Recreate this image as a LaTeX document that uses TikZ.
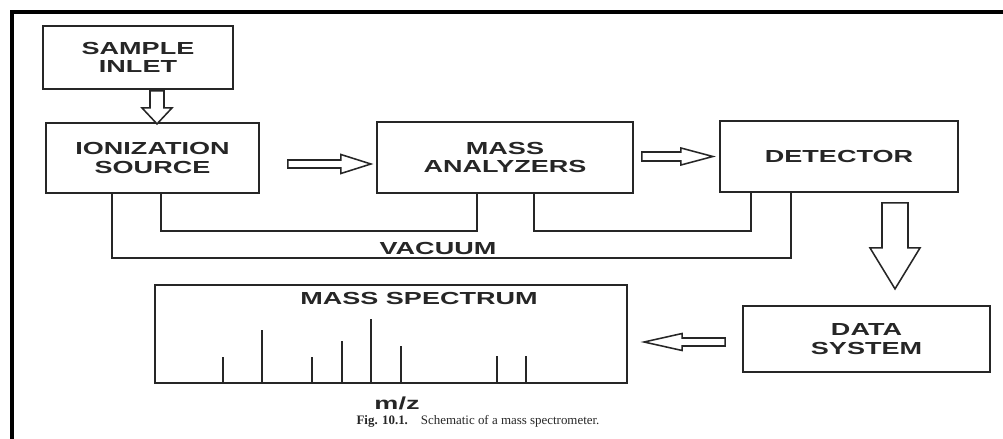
\documentclass[tikz,border=0pt]{standalone}
\usepackage{fontspec}
\setmainfont{Liberation Serif}
\newfontfamily\boxfont[FakeStretch=1.55]{Liberation Sans}
\usetikzlibrary{calc}
\definecolor{inkline}{RGB}{38,38,38}
\newcommand{\pxu}{0.025cm}
\tikzset{
  block/.style={draw=inkline,line width=1.3pt,align=center,text=inkline,
    font=\boxfont\bfseries\fontsize{12.4}{13.2}\selectfont},
  boxtext/.style={text=inkline,inner sep=0pt,
    font=\boxfont\bfseries\fontsize{12.4}{12.8}\selectfont},
  vacline/.style={draw=inkline,line width=1.3pt},
  peak/.style={draw=inkline,line width=1.3pt},
  hollow/.style={draw=inkline,line width=1.1pt,fill=white,line join=miter},
  frame/.style={draw=black,line width=2.2pt},
  captext/.style={text=inkline,inner sep=0pt,font=\fontsize{9.2}{11}\selectfont}
}
% hollow block arrow: start, angle, length, shaft half, head half, head length
\newcommand{\hollowarrow}[6]{%
  \draw[hollow,shift={#1},rotate=#2] (0,-#4) -- ({#3-#6},-#4) -- ({#3-#6},-#5)
    -- (#3,0) -- ({#3-#6},#5) -- ({#3-#6},#4) -- (0,#4) -- cycle;}

\begin{document}
\begin{tikzpicture}[x=0.025cm,y=-0.025cm]
  \useasboundingbox (0,0) rectangle (1003,439);
  \draw[frame] (12,439) -- (12,12) -- (1003,12);

  \node[block,minimum width=190*\pxu,minimum height=63*\pxu] (inlet) at (138,57.5) {SAMPLE\\INLET};
  \node[block,minimum width=213*\pxu,minimum height=70*\pxu] (ion)   at (152.5,158) {IONIZATION\\SOURCE};
  \node[block,minimum width=256*\pxu,minimum height=71*\pxu] (mass)  at (505,157.5) {MASS\\ANALYZERS};
  \node[block,minimum width=238*\pxu,minimum height=71*\pxu] (det)   at (839,156.5) {DETECTOR};
  \node[block,minimum width=247*\pxu,minimum height=66*\pxu] (data)  at (866.5,339) {DATA\\SYSTEM};
  \node[block,minimum width=472*\pxu,minimum height=98*\pxu] (spec)  at (391,334) {};

  \hollowarrow{($(inlet.south)+(19,1)$)}{-90}{33}{7}{15}{16}
  \hollowarrow{($(ion.east)+(28,6)$)}{0}{83}{4}{9.5}{30}
  \hollowarrow{($(mass.east)+(8,-1)$)}{0}{71}{4.5}{8.5}{32}
  \hollowarrow{($(det.south)+(56,10)$)}{-90}{86}{13}{25}{41}
  \hollowarrow{($(data.west)+(-17,3)$)}{180}{81}{4}{8.5}{38}

  % vacuum lines
  \draw[vacline] ($(ion.south west)+(67,0)$) |- ($(det.south west)+(72,65)$) -- ($(det.south west)+(72,0)$);
  \draw[vacline] ($(ion.south west)+(116,0)$) |- ($(mass.south west)+(101,37)$) -- ($(mass.south west)+(101,0)$);
  \draw[vacline] ($(mass.south west)+(158,0)$) |- ($(det.south west)+(32,38)$) -- ($(det.south west)+(32,0)$);
  \node[boxtext] (vac) at (438,248) {VACUUM};

  % spectrum
  \node[boxtext] (spectitle) at ($(spec.north)+(28,14)$) {MASS SPECTRUM};
  \foreach \dx/\h in {69/27,108/54,158/27,188/43,217/65,247/38,343/28,372/28}
    \draw[peak] ($(spec.south west)+(\dx,0)$) -- ++(0,-\h);
  \node[boxtext] (mz) at ($(spec.south)+(6,19)$) {m/z};

  \node[captext] (caption) at (478,421) {\textbf{Fig. 10.1.}\quad Schematic of a mass spectrometer.};
\end{tikzpicture}
\end{document}
